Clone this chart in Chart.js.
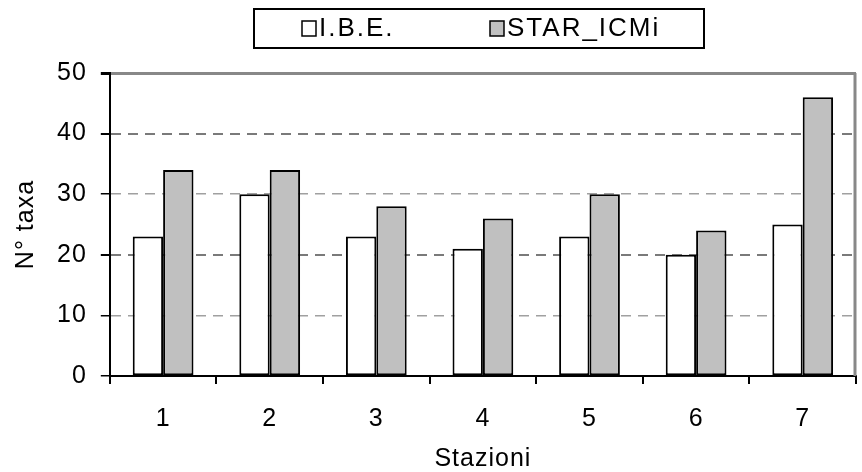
<!DOCTYPE html>
<html>
<head>
<meta charset="utf-8">
<script src="https://cdn.jsdelivr.net/npm/chart.js@4.4.1/dist/chart.umd.min.js"></script>
<style>
html,body{margin:0;padding:0;background:#fff;}
#wrap{width:862px;height:472px;position:relative;}
</style>
</head>
<body>
<div id="wrap"><canvas id="c" width="862" height="472"></canvas></div>
<script>
const categories = ['1','2','3','4','5','6','7'];
const ibeValues = [23, 30, 23, 21, 23, 20, 25];
const starValues = [34, 34, 28, 26, 30, 24, 46];
const seriesNames = ['I.B.E.', 'STAR_ICMi'];
const yTicks = [0, 10, 20, 30, 40, 50];
const FONT = '"Liberation Sans", Arial, sans-serif';
const FS = 25;

const frameLegend = {
  id: 'frameLegend',
  beforeLayout(chart) { chart.ctx.letterSpacing = '1px'; },
  beforeDraw(chart) { chart.ctx.letterSpacing = '1px'; },
  afterDraw(chart) {
    const ctx = chart.ctx;
    const a = chart.chartArea;
    ctx.save();
    // right plot border
    ctx.strokeStyle = '#888';
    ctx.lineWidth = 3;
    ctx.beginPath();
    ctx.moveTo(a.right - 1, a.top);
    ctx.lineTo(a.right - 1, a.bottom);
    ctx.stroke();
    // legend box
    ctx.strokeStyle = '#000';
    ctx.lineWidth = 2;
    ctx.fillStyle = '#fff';
    ctx.fillRect(254, 9, 450, 39);
    ctx.strokeRect(254, 9, 450, 39);
    ctx.font = '26px ' + FONT;
    ctx.letterSpacing = '2px';
    ctx.textBaseline = 'middle';
    ctx.textAlign = 'left';
    const items = [
      {x: 302, fill: '#fff', text: seriesNames[0]},
      {x: 490, fill: '#c0c0c0', text: seriesNames[1]}
    ];
    items.forEach(it => {
      ctx.fillStyle = it.fill;
      ctx.fillRect(it.x, 21, 14, 15);
      ctx.lineWidth = 1.5;
      ctx.strokeStyle = '#000';
      ctx.strokeRect(it.x, 21, 14, 15);
      ctx.fillStyle = '#000';
      ctx.fillText(it.text, it.x + 17, 29);
    });
    ctx.restore();
  }
};

new Chart(document.getElementById('c'), {
  type: 'bar',
  data: {
    labels: categories,
    datasets: [
      {label: seriesNames[0], data: ibeValues, backgroundColor: '#ffffff', borderColor: '#000', borderWidth: 2, borderSkipped: false},
      {label: seriesNames[1], data: starValues, backgroundColor: '#c0c0c0', borderColor: '#000', borderWidth: 2, borderSkipped: false}
    ]
  },
  options: {
    responsive: false,
    animation: false,
    devicePixelRatio: 1,
    layout: {padding: {top: 73, right: 6, left: 14, bottom: 0}},
    datasets: {bar: {categoryPercentage: 0.57, barPercentage: 1.0}},
    plugins: {legend: {display: false}, tooltip: {enabled: false}},
    scales: {
      x: {
        offset: true,
        grid: {offset: true, drawOnChartArea: false, drawTicks: true, tickLength: 8, color: '#000', lineWidth: 2},
        border: {color: '#000', width: 2},
        ticks: {color: '#000', font: {family: FONT, size: FS, lineHeight: 1}, padding: 23},
        title: {display: true, text: 'Stazioni', color: '#000', font: {family: FONT, size: FS, lineHeight: 0.16}, padding: {top: 2, bottom: 11}}
      },
      y: {
        min: 0, max: 50,
        afterBuildTicks(scale) { scale.ticks = yTicks.map(v => ({value: v})); },
        grid: {
          drawTicks: true, tickLength: 9,
          tickColor: '#000',
          color: ctx => ctx.tick && ctx.tick.value === 50 ? '#888' : (ctx.tick && (ctx.tick.value === 20 || ctx.tick.value === 40) ? '#7a7a7a' : '#a0a0a0'),
          lineWidth: ctx => ctx.tick && ctx.tick.value === 50 ? 3 : (ctx.tick && (ctx.tick.value === 20 || ctx.tick.value === 40) ? 2 : 1.5)
        },
        border: {color: '#000', width: 2, dash: ctx => (ctx.tick && ctx.tick.value > 0 && ctx.tick.value < 50) ? [10, 7] : []},
        ticks: {color: '#000', font: {family: FONT, size: FS, lineHeight: 1}, padding: 14},
        title: {display: true, text: 'N° taxa', color: '#000', font: {family: FONT, size: FS, lineHeight: 1}, padding: {top: 0, bottom: 4}}
      }
    }
  },
  plugins: [frameLegend]
});
</script>
</body>
</html>
